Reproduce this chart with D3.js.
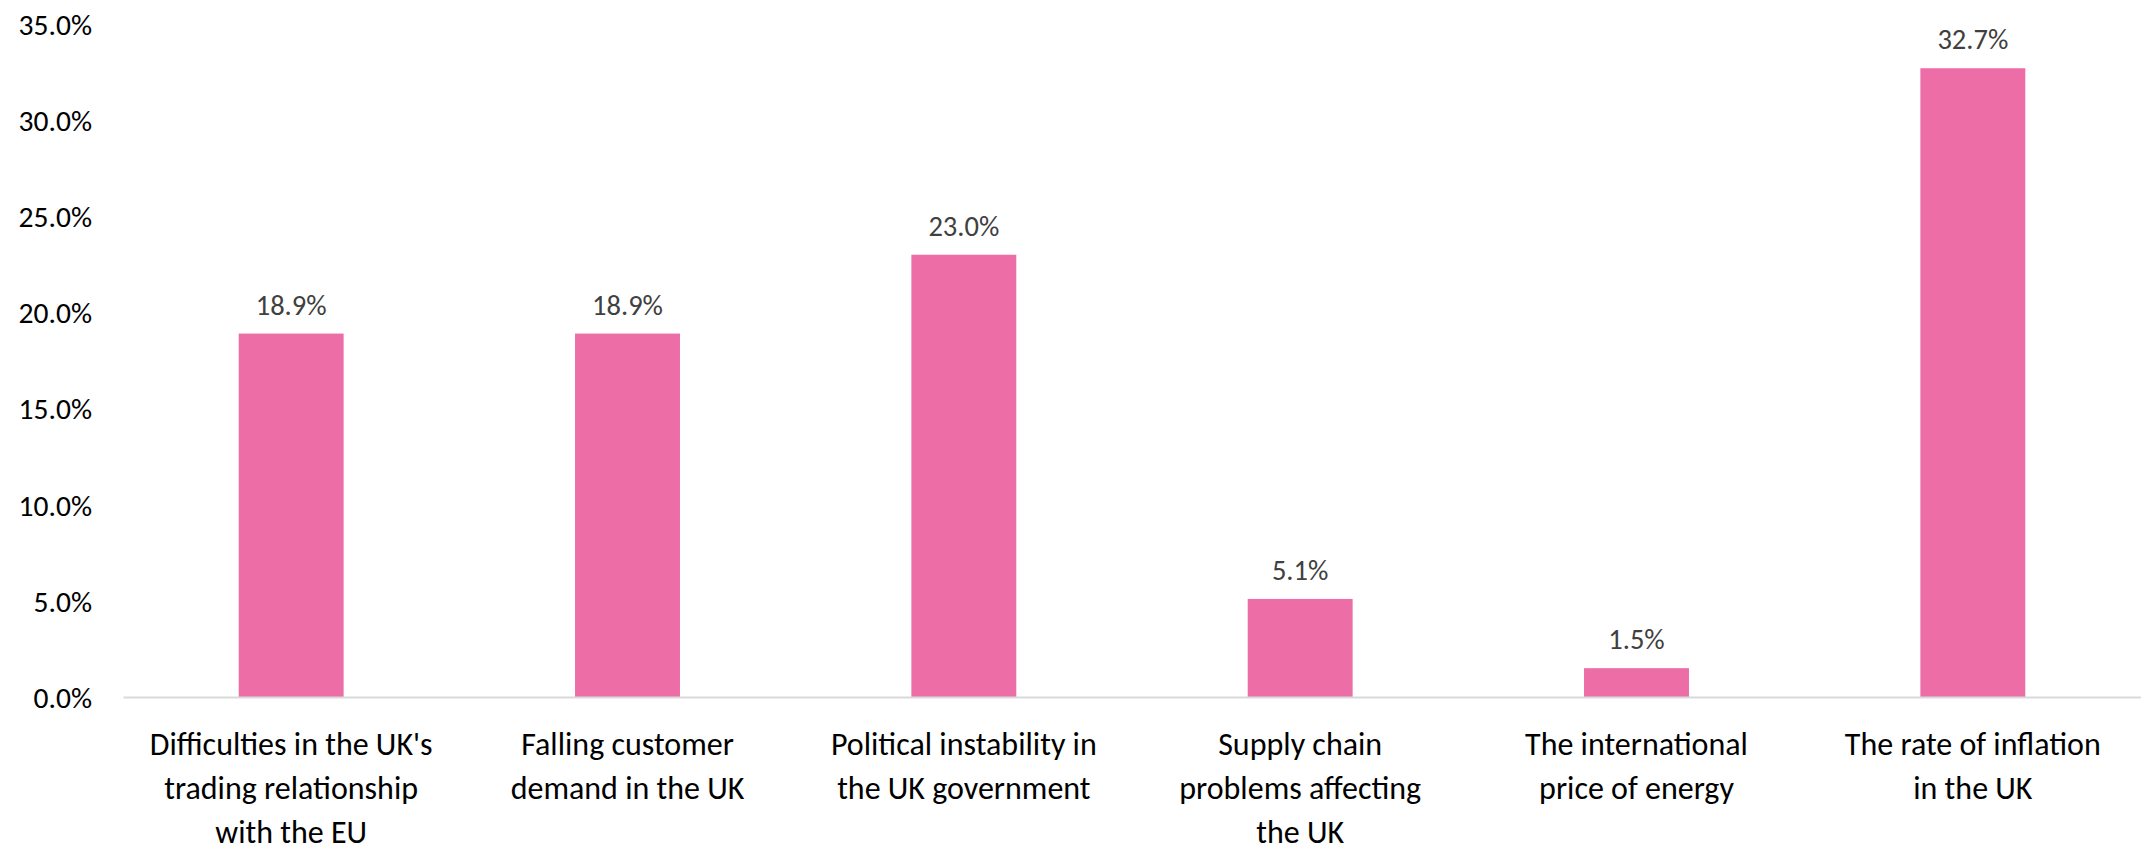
<!DOCTYPE html>
<html>
<head>
<meta charset="utf-8">
<script src="https://cdn.jsdelivr.net/npm/d3@7"></script>
<style>
  html, body { margin: 0; padding: 0; background: #fff; }
  svg { display: block; }
  text { font-family: Carlito, Calibri, Lato, "Open Sans", sans-serif; }
</style>
</head>
<body>
<svg id="chart" width="2141" height="851"></svg>
<script>
const categories = [
  "Difficulties in the UK's trading relationship with the EU",
  "Falling customer demand in the UK",
  "Political instability in the UK government",
  "Supply chain problems affecting the UK",
  "The international price of energy",
  "The rate of inflation in the UK"
];
const categoryLines = [
  ["Difficulties in the UK's", "trading relationship", "with the EU"],
  ["Falling customer", "demand in the UK"],
  ["Political instability in", "the UK government"],
  ["Supply chain", "problems affecting", "the UK"],
  ["The international", "price of energy"],
  ["The rate of inflation", "in the UK"]
];
const values = [18.9, 18.9, 23.0, 5.1, 1.5, 32.7];
const yTicks = [0, 5, 10, 15, 20, 25, 30, 35];

const svg = d3.select("#chart");
const mLeft = 123, mRight = 2141, mTop = 24, mBottom = 697;

const x = d3.scaleBand().domain(categories).range([mLeft, mRight]).paddingInner(0).paddingOuter(0);
const y = d3.scaleLinear().domain([0, 35]).range([mBottom, mTop]);
const barW = x.bandwidth() * 0.312;

// y axis labels
const yAxis = d3.axisLeft(y).tickValues(yTicks).tickFormat(d => d.toFixed(1) + "%").tickSize(0).tickPadding(0);
const gy = svg.append("g").attr("transform", `translate(92,0)`).call(yAxis);
gy.select(".domain").remove();
gy.selectAll("text").attr("font-size", 29.5).attr("fill", "#000").attr("dy", "0.35em")
  .style("font-family", 'Carlito, Calibri, Lato, "Open Sans", sans-serif');

// bars
svg.append("g").selectAll("rect").data(values).join("rect")
  .attr("x", (d, i) => x(categories[i]) + x.bandwidth() / 2 - barW / 2)
  .attr("width", barW)
  .attr("y", d => y(d))
  .attr("height", d => y(0) - y(d))
  .attr("fill", "#ED6EA7");

// x axis line
const xAxis = d3.axisBottom(x).tickSize(0).tickFormat("");
const gx = svg.append("g").attr("transform", `translate(0,${mBottom})`).call(xAxis);
gx.select(".domain").attr("stroke", "#d9d9d9").attr("stroke-width", 2);

// category labels
const labG = svg.append("g");
categories.forEach((c, i) => {
  const t = labG.append("text")
    .attr("x", x(c) + x.bandwidth() / 2)
    .attr("text-anchor", "middle")
    .attr("font-size", 32)
    .attr("fill", "#000");
  categoryLines[i].forEach((ln, j) => {
    t.append("tspan").attr("x", x(c) + x.bandwidth() / 2)
      .attr("y", mBottom + 58 + j * 44).text(ln);
  });
});

// data labels
svg.append("g").selectAll("text").data(values).join("text")
  .attr("x", (d, i) => x(categories[i]) + x.bandwidth() / 2)
  .attr("y", d => y(d) - 29)
  .attr("dy", "0.35em")
  .attr("text-anchor", "middle")
  .attr("font-size", 28.5)
  .attr("fill", "#404040")
  .text(d => d.toFixed(1) + "%");
</script>
</body>
</html>
